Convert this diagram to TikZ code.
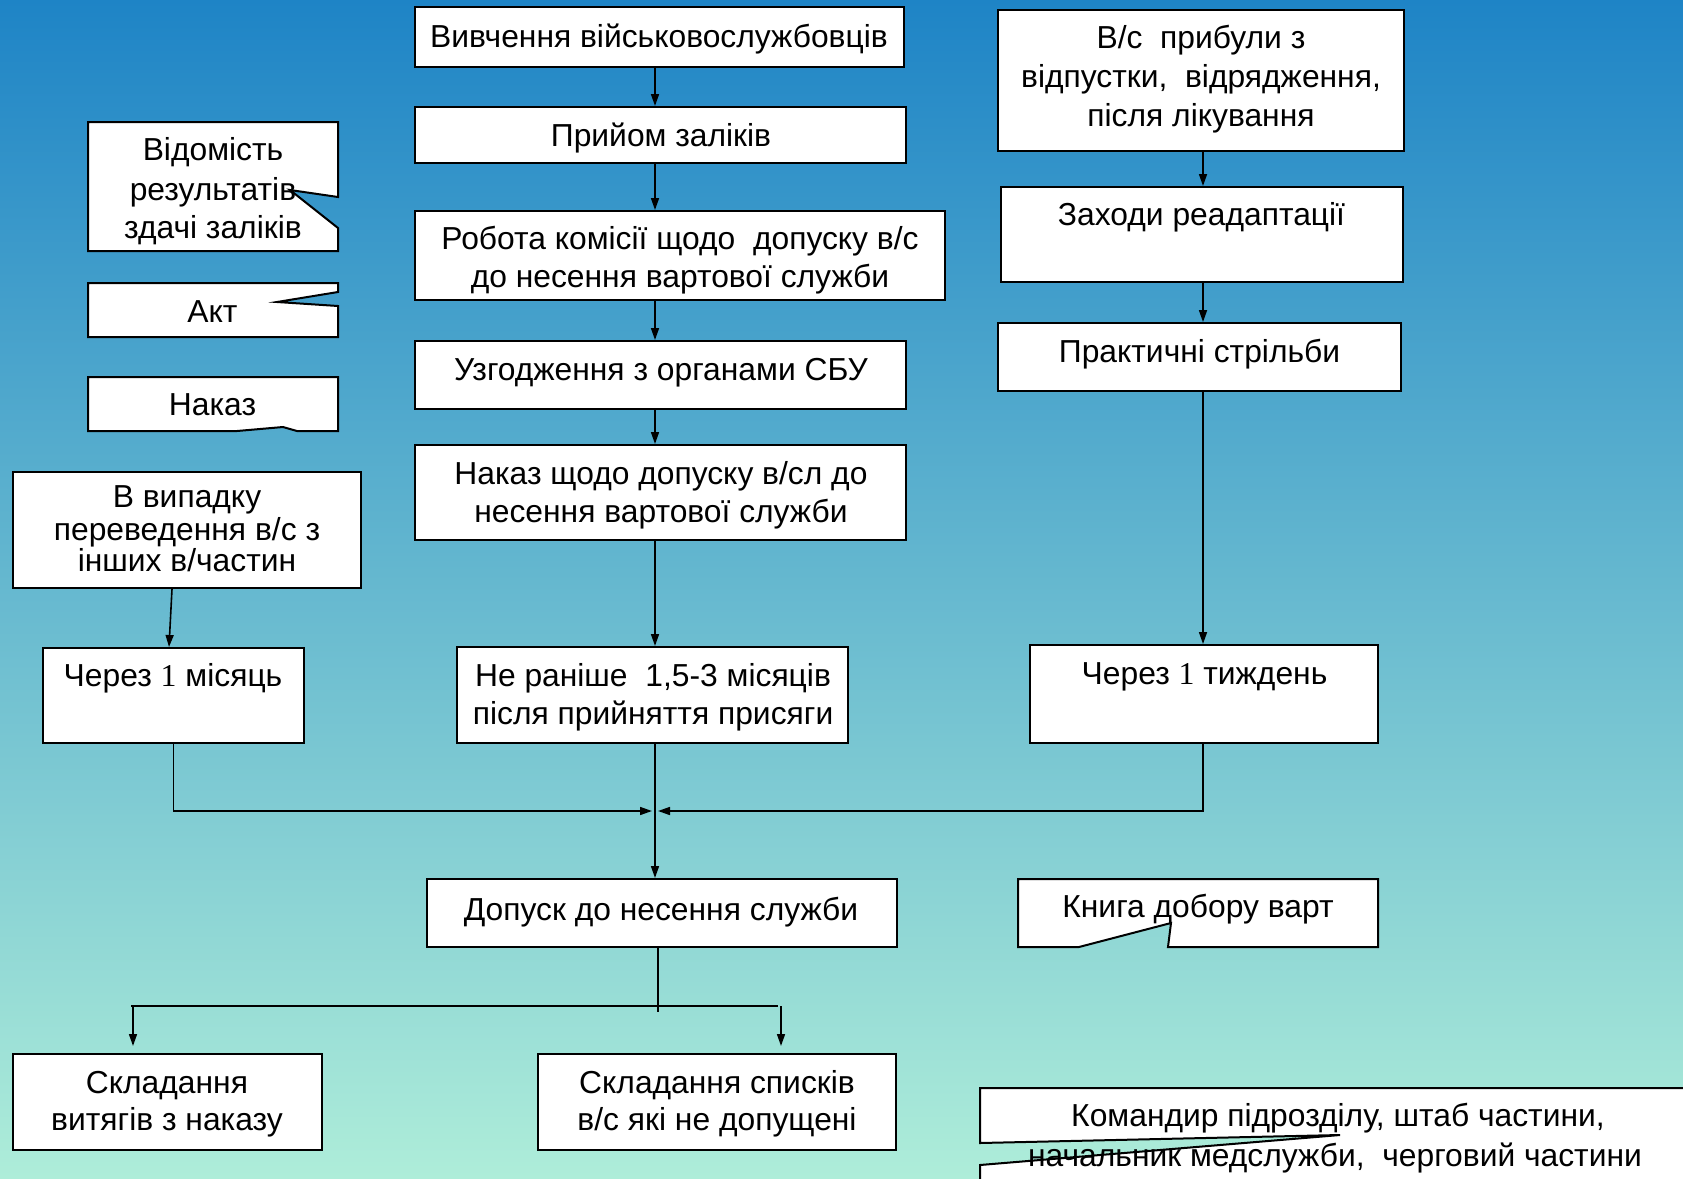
\documentclass[tikz,border=0pt]{standalone}
\usepackage{fontspec}
\setmainfont{Liberation Sans}
\newfontfamily\serifone{Liberation Serif}
\usetikzlibrary{arrows.meta,calc}
\definecolor{bgtop}{RGB}{30,132,198}
\definecolor{bgbot}{RGB}{174,237,217}
\tikzset{
  bx/.style={draw=black, line width=2pt, fill=white, inner sep=0pt},
  ghost/.style={inner sep=0pt},
  txt/.style={anchor=base, inner sep=0pt, text=black, font=\fontsize{31.8}{38}\selectfont},
  arr/.style={draw=black, line width=1.6pt, -{Triangle[length=12pt,width=8pt]}},
  ln/.style={draw=black, line width=1.6pt},
  notched/.style={draw=black, line width=2pt, fill=white, line join=miter}
}
\begin{document}
\begin{tikzpicture}[x=1pt,y=-1pt]
\path[use as bounding box] (0,0) rectangle (1683,1178);
\clip (0,0) rectangle (1683,1178);
\shade[top color=bgtop, bottom color=bgbot] (0,0) rectangle (1683,1178);

% centre column
\node[bx, minimum width=489pt, minimum height=60pt] (b1) at (659.5,37) {};
\node[txt] (tb1) at (659,47) {Вивчення військовослужбовців};
\node[bx, minimum width=491pt, minimum height=56pt] (b2) at (660.5,135) {};
\node[txt] (tb2) at (661,146) {Прийом заліків};
\node[bx, minimum width=530pt, minimum height=89pt] (b3) at (680,255.5) {};
\node[txt] (tb3a) at (680,249) {Робота комісії щодо\ \ допуску в/с};
\node[txt] (tb3b) at (680,287) {до несення вартової служби};
\node[bx, minimum width=491pt, minimum height=68pt] (b4) at (660.5,375) {};
\node[txt] (tb4) at (661,380) {Узгодження з органами СБУ};
\node[bx, minimum width=491pt, minimum height=95pt] (b5) at (660.5,492.5) {};
\node[txt] (tb5a) at (661,484) {Наказ щодо допуску в/сл до};
\node[txt] (tb5b) at (661,522) {несення вартової служби};
\node[bx, minimum width=391pt, minimum height=96pt] (b6) at (652.5,695) {};
\node[txt] (tb6a) at (653,686) {Не раніше\ \ 1,5-3 місяців};
\node[txt] (tb6b) at (653,724) {після прийняття присяги};
\node[bx, minimum width=470pt, minimum height=68pt] (dop) at (662,913) {};
\node[txt] (tdop) at (661,920) {Допуск до несення служби};
\node[bx, minimum width=309pt, minimum height=96pt] (s1) at (167.5,1102) {};
\node[txt] (ts1a) at (167,1093) {Складання};
\node[txt] (ts1b) at (167,1130) {витягів з наказу};
\node[bx, minimum width=358pt, minimum height=96pt] (s2) at (717,1102) {};
\node[txt] (ts2a) at (717,1093) {Складання списків};
\node[txt] (ts2b) at (717,1130) {в/с які не допущені};

% right column
\node[bx, minimum width=406pt, minimum height=141pt] (r1) at (1201,80.5) {};
\node[txt] (tr1a) at (1201,48) {В/с\ \ прибули з};
\node[txt] (tr1b) at (1201,87) {відпустки,\ \ відрядження,};
\node[txt] (tr1c) at (1201,126) {після лікування};
\node[bx, minimum width=402pt, minimum height=95pt] (r2) at (1202,234.5) {};
\node[txt] (tr2) at (1201.5,225) {Заходи реадаптації};
\node[bx, minimum width=403pt, minimum height=68pt] (r3) at (1199.5,357) {};
\node[txt] (tr3) at (1199.5,362) {Практичні стрільби};
\node[bx, minimum width=348pt, minimum height=98pt] (t) at (1204,694) {};
\node[txt] (tt) at (1204.5,684) {Через {\serifone 1} тиждень};

% left column
\node[bx, minimum width=348pt, minimum height=116pt] (v) at (187,530) {};
\node[txt] (tva) at (187,507) {В випадку};
\node[txt] (tvb) at (187,540) {переведення в/с з};
\node[txt] (tvc) at (187,571) {інших в/частин};
\node[bx, minimum width=261pt, minimum height=95pt] (m1) at (173.5,695.5) {};
\node[txt] (tm1) at (173,686) {Через {\serifone 1} місяць};

% callout-like shapes
\node[ghost, minimum width=250pt, minimum height=129pt] (vid) at (213,186.5) {};
\draw[notched] (88,122) -- (338,122) -- (338,197) -- (290,190) -- (338,228) -- (338,251) -- (88,251) -- cycle;
\node[txt] (tvida) at (213,160) {Відомість};
\node[txt] (tvidb) at (213,200) {результатів};
\node[txt] (tvidc) at (213,238) {здачі заліків};

\node[ghost, minimum width=250pt, minimum height=54pt] (akt) at (213,310) {};
\draw[notched] (88,283) -- (338,283) -- (338,292) -- (277,302) -- (338,306) -- (338,337) -- (88,337) -- cycle;
\node[txt] (takt) at (212.5,322) {Акт};

\node[ghost, minimum width=250pt, minimum height=54pt] (nak) at (213,404) {};
\draw[notched] (88,377) -- (338,377) -- (338,431) -- (297,431) -- (283,427) -- (237,431) -- (88,431) -- cycle;
\node[txt] (tnak) at (212.5,415) {Наказ};

\node[ghost, minimum width=360pt, minimum height=68pt] (kn) at (1198,913) {};
\draw[notched] (1018,879) -- (1378,879) -- (1378,947) -- (1168,947) -- (1171,923) -- (1079,947) -- (1018,947) -- cycle;
\node[txt] (tkn) at (1198,917) {Книга добору варт};

\node[ghost, minimum width=700pt, minimum height=100pt] (kom) at (1330,1138) {};
\draw[notched] (980,1088) -- (1710,1088) -- (1710,1210) -- (980,1210) -- (980,1165) -- (1340,1135) -- (980,1143) -- cycle;
\node[txt] (tkoma) at (1338,1126) {Командир підрозділу, штаб частини,};
\node[txt] (tkomb) at (1335,1166) {начальник медслужби,\ \ черговий частини};

% connectors
\coordinate (cx) at (655,0);
\coordinate (rx) at (1203,0);
\draw[arr] (b1.south -| cx) -- (b2.north -| cx);
\draw[arr] (b2.south -| cx) -- (b3.north -| cx);
\draw[arr] (b3.south -| cx) -- (b4.north -| cx);
\draw[arr] (b4.south -| cx) -- (b5.north -| cx);
\draw[arr] (b5.south -| cx) -- (b6.north -| cx);
\draw[arr] (r1.south -| rx) -- (r2.north -| rx);
\draw[arr] (r2.south -| rx) -- (r3.north -| rx);
\draw[arr] (r3.south -| rx) -- (t.north -| rx);
\draw[arr] ([xshift=-15pt]v.south) -- ([xshift=-4.5pt]m1.north);

\coordinate (jn) at (655,811);
\draw[arr] (m1.south) |- ([xshift=-3pt]jn);
\draw[arr] (t.south -| rx) |- ([xshift=3pt]jn);
\draw[arr] (b6.south -| cx) -- (dop.north -| cx);

\coordinate (hl) at (131,1006);
\coordinate (hr) at (778,1006);
\coordinate (al) at (133,1046);
\coordinate (ar) at (781,1046);
\draw[ln] ([xshift=-4pt]dop.south) -- (658,1012);
\draw[ln] (hl) -- (hr);
\draw[arr] (al |- hl) -- (al);
\draw[arr] (ar |- hr) -- (ar);
\end{tikzpicture}
\end{document}
